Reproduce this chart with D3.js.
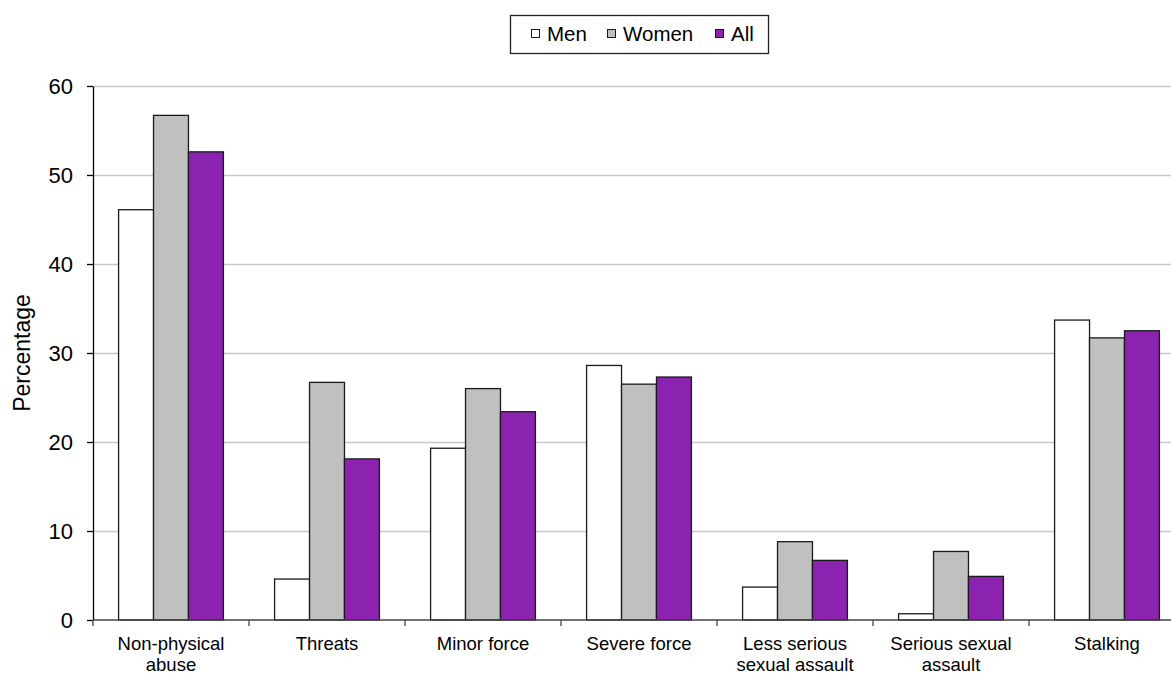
<!DOCTYPE html>
<html>
<head>
<meta charset="utf-8">
<script src="https://cdn.jsdelivr.net/npm/d3@7"></script>
<style>
  html, body { margin: 0; padding: 0; background: #fff; }
  svg { display: block; font-family: "Liberation Sans", Arial, sans-serif; }
</style>
</head>
<body>
<svg id="chart" width="1171" height="675"></svg>
<script>
// Categories of abuse (each label split into display lines)
const categories = ["Non-physical abuse", "Threats", "Minor force", "Severe force",
  "Less serious sexual assault", "Serious sexual assault", "Stalking"];
const categoryLines = [["Non-physical", "abuse"], ["Threats"], ["Minor force"], ["Severe force"],
  ["Less serious", "sexual assault"], ["Serious sexual", "assault"], ["Stalking"]];

// Percentages per series
const seriesNames = ["Men", "Women", "All"];
const menValues   = [46.1, 4.6, 19.3, 28.6, 3.7, 0.7, 33.7];
const womenValues = [56.7, 26.7, 26.0, 26.5, 8.8, 7.7, 31.7];
const allValues   = [52.6, 18.1, 23.4, 27.3, 6.7, 4.9, 32.5];
const seriesColors = ["#ffffff", "#c0c0c0", "#8b22b0"];

const yTicks = [0, 10, 20, 30, 40, 50, 60];

const svg = d3.select("#chart");

const plot = { left: 93, right: 1185, top: 86, bottom: 620 };

const x0 = d3.scaleBand().domain(categories).range([plot.left, plot.right]).padding(0);
const bw = x0.bandwidth();
const x1 = d3.scaleBand().domain(seriesNames).range([bw * 0.164, bw * 0.836]).padding(0);
const y = d3.scaleLinear().domain([0, 60]).range([plot.bottom, plot.top]);

const table = categories.map((c, i) => ({
  category: c,
  values: [menValues[i], womenValues[i], allValues[i]]
}));

// Horizontal gridlines
svg.append("g")
  .selectAll("line")
  .data(yTicks.filter(t => t > 0))
  .join("line")
  .attr("x1", plot.left)
  .attr("x2", plot.right)
  .attr("y1", d => Math.round(y(d)) + 0.5)
  .attr("y2", d => Math.round(y(d)) + 0.5)
  .attr("stroke", "#c8c8c8")
  .attr("stroke-width", 1.3);

// Bars
const groups = svg.append("g")
  .selectAll("g")
  .data(table)
  .join("g")
  .attr("transform", d => `translate(${x0(d.category)},0)`);

groups.selectAll("rect")
  .data(d => d.values.map((v, k) => ({ series: seriesNames[k], value: v, k })))
  .join("rect")
  .attr("x", d => x1(d.series))
  .attr("width", x1.bandwidth())
  .attr("y", d => y(d.value))
  .attr("height", d => y(0) - y(d.value))
  .attr("fill", d => seriesColors[d.k])
  .attr("stroke", "#1a1a1a")
  .attr("stroke-width", 1.3);

// Y axis
const yAxis = svg.append("g")
  .attr("transform", `translate(${plot.left},0)`)
  .call(d3.axisLeft(y).tickValues(yTicks).tickSize(6).tickPadding(14).tickSizeOuter(0));
yAxis.select(".domain").attr("stroke", "#000").attr("stroke-width", 1.3);
yAxis.selectAll(".tick line").attr("stroke", "#000").attr("stroke-width", 1.3);
yAxis.selectAll(".tick text")
  .attr("font-size", 22)
  .attr("font-family", "Liberation Sans, Arial, sans-serif")
  .attr("fill", "#000");

// X axis line with ticks at category boundaries
svg.append("line")
  .attr("x1", plot.left).attr("x2", plot.right)
  .attr("y1", plot.bottom).attr("y2", plot.bottom)
  .attr("stroke", "#444").attr("stroke-width", 1.5);

const boundaries = categories.map(c => x0(c)).concat([plot.right]);
svg.append("g")
  .selectAll("line")
  .data(boundaries)
  .join("line")
  .attr("x1", d => d).attr("x2", d => d)
  .attr("y1", plot.bottom).attr("y2", plot.bottom + 6)
  .attr("stroke", "#444").attr("stroke-width", 1.3);

// Category labels
const labels = svg.append("g")
  .selectAll("text")
  .data(categories)
  .join("text")
  .attr("text-anchor", "middle")
  .attr("font-size", 18.5)
  .attr("fill", "#000")
  .attr("x", d => x0(d) + bw / 2)
  .attr("y", 650);

labels.each(function (d, i) {
  const t = d3.select(this);
  categoryLines[i].forEach((line, j) => {
    t.append("tspan")
      .attr("x", x0(d) + bw / 2)
      .attr("dy", j === 0 ? 0 : 20.5)
      .text(line);
  });
});

// Y axis title
svg.append("text")
  .attr("transform", "translate(30,353) rotate(-90)")
  .attr("text-anchor", "middle")
  .attr("font-size", 23)
  .attr("fill", "#000")
  .text("Percentage");

// Legend
const legend = svg.append("g");
legend.append("rect")
  .attr("x", 510.5).attr("y", 15.5)
  .attr("width", 258).attr("height", 38)
  .attr("fill", "#fff")
  .attr("stroke", "#222").attr("stroke-width", 1.3);

const legendX = [531, 607, 715];
seriesNames.forEach((name, k) => {
  legend.append("rect")
    .attr("x", legendX[k] + 0.5).attr("y", 29.5)
    .attr("width", 8).attr("height", 8)
    .attr("fill", seriesColors[k])
    .attr("stroke", "#1a1a1a").attr("stroke-width", 1);
  legend.append("text")
    .attr("x", legendX[k] + 16)
    .attr("y", 41)
    .attr("font-size", 20.5)
    .attr("fill", "#000")
    .text(name);
});
</script>
</body>
</html>
